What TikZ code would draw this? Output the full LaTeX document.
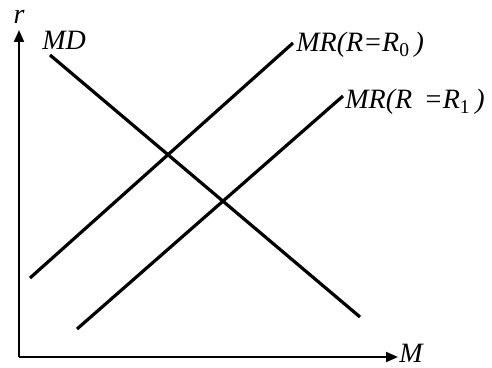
\documentclass[tikz,border=0pt]{standalone}
\usepackage{fontspec}
\setmainfont{Liberation Serif}
\usetikzlibrary{arrows.meta}
\begin{document}
\begin{tikzpicture}[x=0.5pt,y=-0.5pt,
  axis/.style={line width=1pt,-{Triangle[length=6pt,width=5pt]}},
  curve/.style={line width=1.6pt},
  lbl/.style={font=\fontsize{14}{16}\selectfont\itshape,inner sep=0pt}]
\useasboundingbox (0,0) rectangle (492,368);
\coordinate (O) at (19,357);
\coordinate (Ytop) at (19,30);
\coordinate (Xend) at (398,357);
\draw[axis] (O) -- (Ytop);
\draw[axis] (O) -- (Xend);
\node[lbl,anchor=south] (r) at (19,24) {r};
\node[lbl,anchor=base west] (M) at (399,363) {M};
% MD
\coordinate (md1) at (50,55);
\coordinate (md2) at (360,317);
\draw[curve] (md1) -- (md2);
\node[lbl,anchor=west] (mdl) at (42,40) {MD};
% MR0
\coordinate (a1) at (30,278);
\coordinate (a2) at (293,43);
\draw[curve] (a1) -- (a2);
\node[lbl,anchor=west] (mr0) at (296,45) {MR(R=R\textsubscript{\upshape 0}\,)};
% MR1
\coordinate (b1) at (77,329);
\coordinate (b2) at (343,96);
\draw[curve] (b1) -- (b2);
\node[lbl,anchor=west] (mr1) at (345,102) {MR(R \,=R\textsubscript{\upshape 1}\,)};
\end{tikzpicture}
\end{document}
